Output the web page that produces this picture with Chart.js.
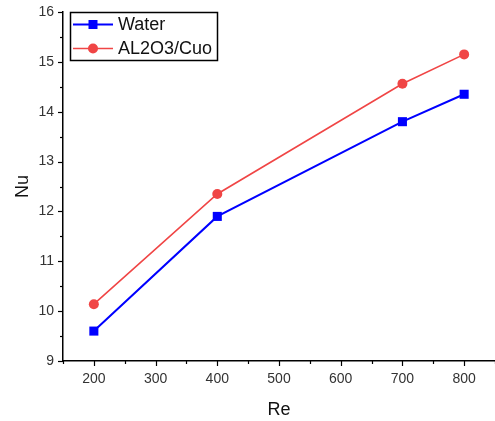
<!DOCTYPE html>
<html>
<head>
<meta charset="utf-8">
<script src="https://cdn.jsdelivr.net/npm/chart.js@4/dist/chart.umd.min.js"></script>
<style>
  html, body { margin: 0; padding: 0; background: #fff; }
  #wrap { width: 495px; height: 421px; }
</style>
</head>
<body>
<div id="wrap"><canvas id="c" width="495" height="421"></canvas></div>
<script>
const reynolds = [200, 400, 700, 800]
const nuWater = [9.6, 11.9, 13.8, 14.35]
const nuNano = [10.14, 12.35, 14.56, 15.15]
const seriesNames = ['Water', 'AL2O3/Cuo']

const FONT = '"Liberation Sans", Arial, sans-serif'

const toPoints = (ys) => reynolds.map((x, i) => ({ x, y: ys[i] }))

// outward major + minor ticks, since the grid itself is switched off
const tickMarks = {
  id: 'tickMarks',
  afterDraw(chart) {
    const { ctx, scales: { x, y }, chartArea } = chart
    ctx.save()
    ctx.strokeStyle = '#000'
    ctx.lineWidth = 1.2
    for (let v = 9; v <= 16; v += 0.5) {
      const py = Math.round(y.getPixelForValue(v)) + 0.5
      const len = Number.isInteger(v) ? 5 : 3
      ctx.beginPath()
      ctx.moveTo(chartArea.left, py)
      ctx.lineTo(chartArea.left - len, py)
      ctx.stroke()
    }
    for (let v = 150; v <= 850; v += 50) {
      const px = Math.round(x.getPixelForValue(v)) + 0.5
      const len = v % 100 === 0 ? 5 : 3
      ctx.beginPath()
      ctx.moveTo(px, chartArea.bottom)
      ctx.lineTo(px, chartArea.bottom + len)
      ctx.stroke()
    }
    ctx.restore()
  }
}

// boxed legend in the upper left corner of the plot
const boxLegend = {
  id: 'boxLegend',
  afterDraw(chart) {
    const { ctx, chartArea } = chart
    const bx = chartArea.left + 7, by = chartArea.top + 0.5
    ctx.save()
    ctx.strokeStyle = '#000'
    ctx.lineWidth = 1.5
    ctx.strokeRect(bx + 0.5, by, 147, 48)
    ctx.font = '18px ' + FONT
    ctx.textBaseline = 'middle'
    chart.data.datasets.forEach((ds, i) => {
      const cy = by + 12 + i * 24
      ctx.strokeStyle = ds.borderColor
      ctx.lineWidth = ds.borderWidth
      ctx.beginPath()
      ctx.moveTo(bx + 3, cy)
      ctx.lineTo(bx + 43, cy)
      ctx.stroke()
      ctx.fillStyle = ds.pointBackgroundColor
      ctx.beginPath()
      if (ds.pointStyle === 'rect') {
        ctx.rect(bx + 23 - 4.5, cy - 4.5, 9, 9)
      } else {
        ctx.arc(bx + 23, cy, 5, 0, Math.PI * 2)
      }
      ctx.fill()
      ctx.fillStyle = '#111'
      ctx.fillText(ds.label, bx + 48, cy + 1)
    })
    ctx.restore()
  }
}

new Chart(document.getElementById('c'), {
  type: 'line',
  data: {
    datasets: [
      {
        label: seriesNames[0],
        data: toPoints(nuWater),
        borderColor: '#0000ff',
        backgroundColor: '#0000ff',
        pointBackgroundColor: '#0000ff',
        pointBorderWidth: 0,
        borderWidth: 2,
        pointStyle: 'rect',
        pointRadius: 6.4,
      },
      {
        label: seriesNames[1],
        data: toPoints(nuNano),
        borderColor: '#f04545',
        backgroundColor: '#f04545',
        pointBackgroundColor: '#f04545',
        pointBorderWidth: 0,
        borderWidth: 1.6,
        pointStyle: 'circle',
        pointRadius: 5,
      }
    ]
  },
  options: {
    responsive: false,
    animation: false,
    layout: { autoPadding: false, padding: { top: 12, right: 0, left: 0, bottom: 0 } },
    plugins: {
      legend: { display: false },
      tooltip: { enabled: false }
    },
    scales: {
      x: {
        type: 'linear',
        min: 150,
        max: 850,
        grid: { display: false, drawTicks: false },
        border: { display: true, color: '#000', width: 1.5 },
        ticks: {
          stepSize: 50,
          padding: 10,
          color: '#333',
          font: { family: FONT, size: 14 },
          maxRotation: 0,
          autoSkip: false,
          callback: (v) => (v % 100 === 0 && v >= 200 && v <= 800) ? v : ''
        },
        title: {
          display: true,
          text: 'Re',
          color: '#111',
          font: { family: FONT, size: 18 },
          padding: { top: 3, bottom: 0 }
        },
        afterFit(scale) {
          scale.height = 60
          scale.paddingLeft = 0
          scale.paddingRight = 0
        }
      },
      y: {
        min: 9,
        max: 16,
        grid: { display: false, drawTicks: false },
        border: { display: true, color: '#000', width: 1.5 },
        ticks: {
          stepSize: 1,
          padding: 9,
          color: '#333',
          font: { family: FONT, size: 14 }
        },
        title: {
          display: true,
          text: 'Nu',
          color: '#111',
          font: { family: FONT, size: 18 },
          padding: { top: 12, bottom: 0 }
        },
        afterFit(scale) {
          scale.width = 63
          scale.paddingTop = 0
          scale.paddingBottom = 0
        }
      }
    }
  },
  plugins: [tickMarks, boxLegend]
})
</script>
</body>
</html>
